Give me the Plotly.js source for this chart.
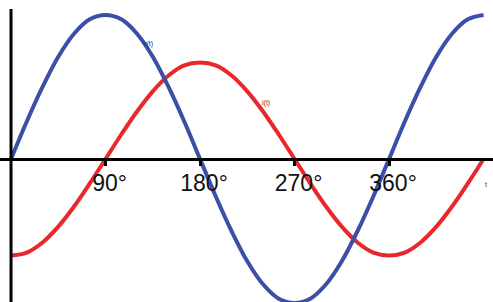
<!DOCTYPE html>
<html>
<head>
<meta charset="utf-8">
<script src="https://cdn.plot.ly/plotly-3.0.1.min.js"></script>
<style>html,body{margin:0;padding:0;background:#fff;}#chart{width:493px;height:302px;}</style>
</head>
<body>
<div id="chart"></div>
<script>
// angle in degrees
const angles = [0,15,30,45,60,75,90,105,120,135,150,165,180,195,210,225,240,255,270,285,300,315,330,345,360,375,390,405,420,435,450];
// voltage v(t) (blue)
const voltage = [0,0.26,0.5,0.71,0.87,0.97,1,0.97,0.87,0.71,0.5,0.26,0,-0.26,-0.5,-0.71,-0.87,-0.97,-1,-0.97,-0.87,-0.71,-0.5,-0.26,0,0.26,0.5,0.71,0.87,0.97,1];
// current i(t) (red)
const current = [-0.67,-0.65,-0.58,-0.47,-0.33,-0.17,0,0.17,0.33,0.47,0.58,0.65,0.67,0.65,0.58,0.47,0.33,0.17,0,-0.17,-0.33,-0.47,-0.58,-0.65,-0.67,-0.65,-0.58,-0.47,-0.33,-0.17,0];
const tickVals = [90,180,270,360];
const tickLabels = ['90°','180°','270°','360°'];

const xRange = [-10.5, 459];
const yRange = [-0.993, 1.104];
const zeroFrac = -yRange[0]/(yRange[1]-yRange[0]);
const xZeroFrac = -xRange[0]/(xRange[1]-xRange[0]);

const traces = [
  {x: angles, y: current, mode:'lines', line:{color:'#e8282b', width:4, shape:'spline'}, hoverinfo:'skip'},
  {x: angles, y: voltage, mode:'lines', line:{color:'#3c4ea6', width:4, shape:'spline'}, hoverinfo:'skip'}
];

const layout = {
  width:493, height:302,
  margin:{l:0,r:0,t:0,b:0},
  paper_bgcolor:'#fff', plot_bgcolor:'#fff',
  showlegend:false,
  font:{family:'Liberation Sans, Arial, sans-serif', color:'#000'},
  xaxis:{
    range:xRange, anchor:'free', position:zeroFrac,
    showgrid:false, zeroline:false,
    showline:true, linecolor:'#000', linewidth:3,
    tickmode:'array', tickvals:tickVals, ticktext:tickLabels,
    ticks:'outside', ticklen:5, tickwidth:3, tickcolor:'#000',
    ticklabelshift:4, ticklabelstandoff:-3,
    tickfont:{size:23, color:'#111'}
  },
  yaxis:{
    range:yRange, anchor:'free', position:xZeroFrac,
    showgrid:false, zeroline:false,
    showline:false, showticklabels:false, ticks:''
  },
  shapes:[
    {type:'line', xref:'x', yref:'paper', x0:0, x1:0, y0:0, y1:0.97, line:{color:'#000', width:3}}
  ],
  annotations:[
    {x:130, y:0.8, xref:'x', yref:'y', text:'v(t)', showarrow:false, font:{size:7, color:'#2d2f7a'}},
    {x:243, y:0.39, xref:'x', yref:'y', text:'i(t)', showarrow:false, font:{size:7, color:'#a01a1a'}},
    {x:452, y:-0.18, xref:'x', yref:'y', text:'t', showarrow:false, font:{size:7, color:'#333'}}
  ]
};

Plotly.newPlot('chart', traces, layout, {staticPlot:true, displayModeBar:false});
</script>
</body>
</html>
